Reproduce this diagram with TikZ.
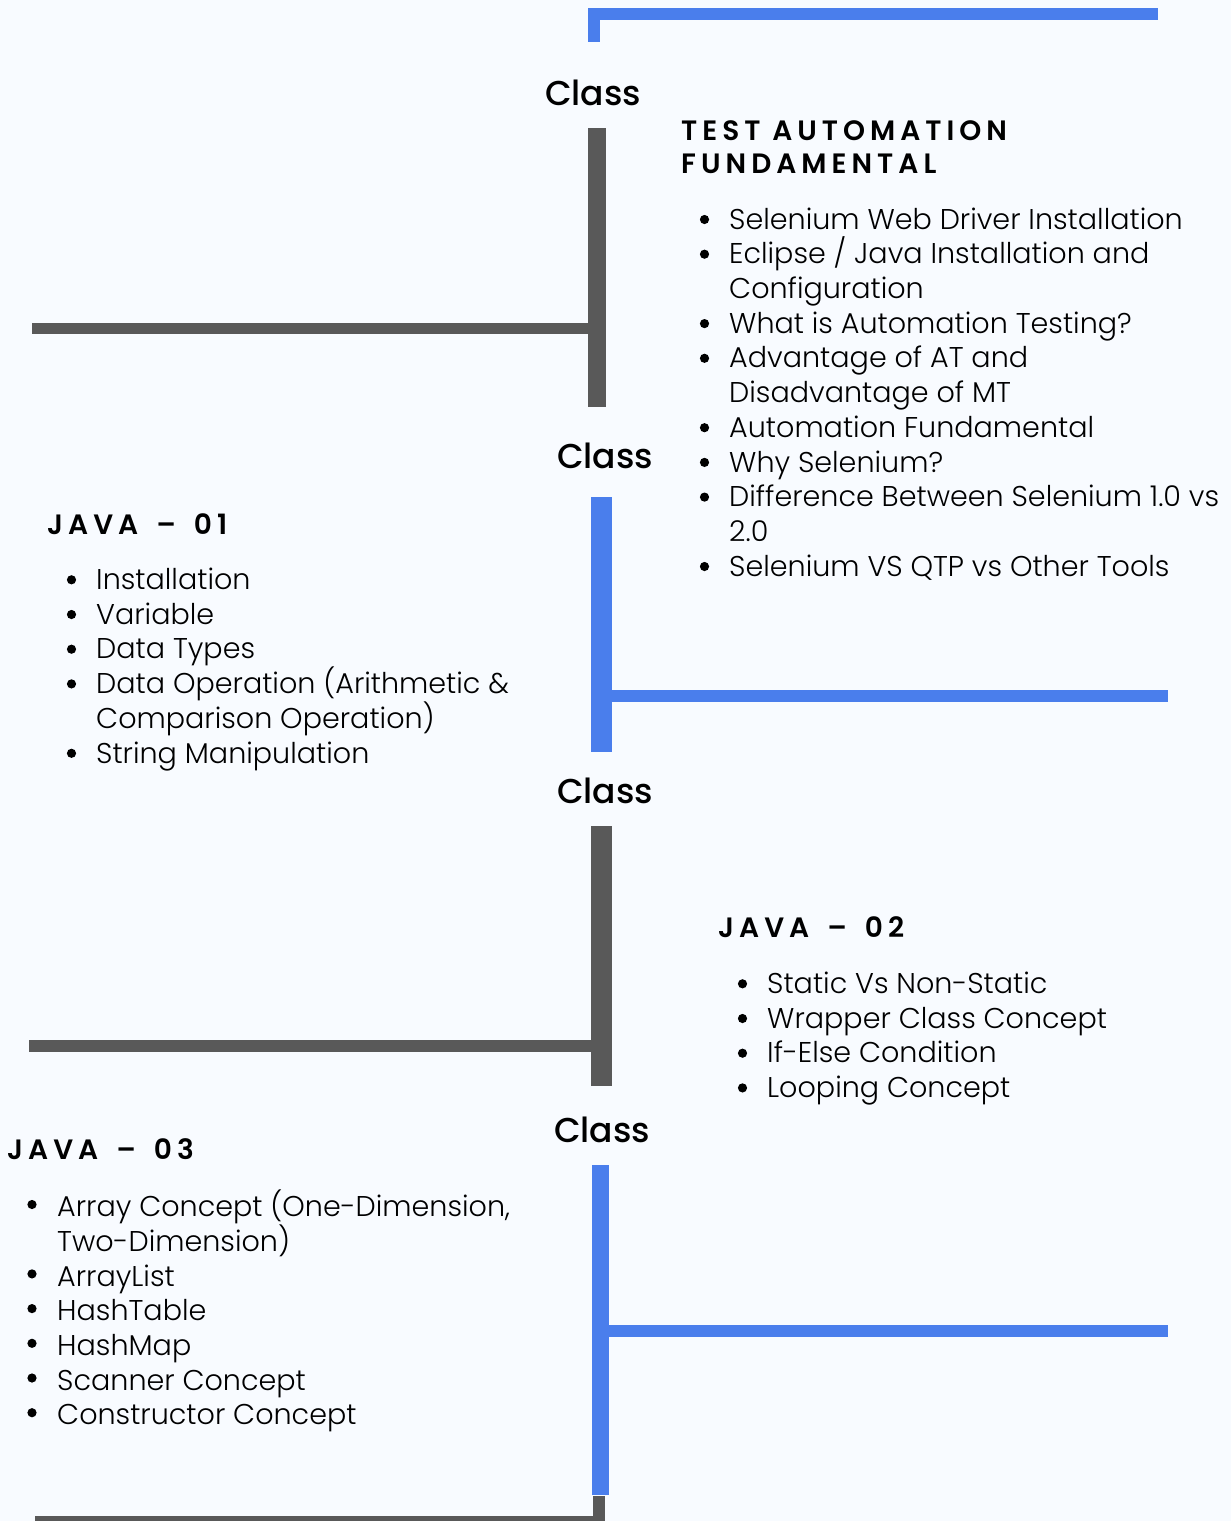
\documentclass[tikz,border=0pt]{standalone}
\usepackage{fontspec}
\newfontfamily\plight{Poppins Light}
\newfontfamily\pmed{Poppins Medium}
\newfontfamily\phead{Poppins SemiBold}[LetterSpace=18]
\definecolor{bgc}{HTML}{F8FBFF}
\definecolor{barblue}{HTML}{4A7EEC}
\definecolor{bargray}{HTML}{595959}
\lineskiplimit=-100pt
\newcommand\ci{\strut}
\newcommand\dashgap{\hspace*{18pt}–\hspace*{18pt}}
\tikzset{
  classlbl/.style={inner sep=0pt, anchor=base west, font=\pmed\fontsize{34.5}{40}\selectfont},
  headlbl/.style={inner sep=0pt, anchor=north west, align=left, font=\phead\fontsize{28}{33.3}\selectfont},
  listtxt/.style={inner sep=0pt, anchor=north west, align=left, font=\plight\fontsize{28.6}{34.7}\selectfont},
  bluebar/.style={fill=barblue},
  graybar/.style={fill=bargray},
  dot/.style={fill=black}
}
\begin{document}
\begin{tikzpicture}[x=1pt,y=-1pt]
\fill[bgc] (0,0) rectangle (1231,1521);
\useasboundingbox (0,0) rectangle (1231,1521);
% bars
\fill[bluebar] (588,8) rectangle (1158,20);
\fill[bluebar] (588,8) rectangle (600,42);
\fill[graybar] (588,128) rectangle (606,407);
\fill[graybar] (32,323) rectangle (590,334);
\fill[bluebar] (591,497) rectangle (612,752);
\fill[bluebar] (611,690) rectangle (1168,702);
\fill[graybar] (591,826) rectangle (612,1086);
\fill[graybar] (29,1040) rectangle (592,1052);
\fill[bluebar] (592,1165) rectangle (609,1495);
\fill[bluebar] (608,1325) rectangle (1168,1337);
\fill[graybar] (593,1496) rectangle (605,1521);
\fill[graybar] (35,1516) rectangle (605,1521);
% class labels
\node[classlbl] (c1) at (545,105) {Class};
\node[classlbl] (c2) at (557,468.3) {Class};
\node[classlbl] (c3) at (557,803.3) {Class};
\node[classlbl] (c4) at (554,1142.3) {Class};
% headings
\node[headlbl] (h1) at (681,116.7) {\strut TEST AUTOMATION\\\strut FUNDAMENTAL};
\node[headlbl] (h2) at (47,510.7) {\strut JAVA\dashgap01};
\node[headlbl] (h3) at (718,914.4) {\strut JAVA\dashgap02};
\node[headlbl] (h4) at (7,1135.7) {\strut JAVA\dashgap03};
% lists
\node[listtxt] (l1) at (729,204.7) {\ci Selenium Web Driver Installation\\
\ci Eclipse / Java Installation and\\
\ci Configuration\\
\ci What is Automation Testing?\\
\ci Advantage of AT and\\
\ci Disadvantage of MT\\
\ci Automation Fundamental\\
\ci Why Selenium?\\
\ci Difference Between Selenium 1.0 vs\\
\ci 2.0\\
\ci Selenium VS QTP vs Other Tools};
\foreach \k in {0,1,3,4,6,7,8,10} \fill[dot] (704.5,229-9.5+34.7*\k) circle (4.6);
\node[listtxt] (l2) at (96,565) {\ci Installation\\
\ci Variable\\
\ci Data Types\\
\ci Data Operation (Arithmetic \&\\
\ci Comparison Operation)\\
\ci String Manipulation};
\foreach \k in {0,1,2,3,5} \fill[dot] (71.5,589.3-9.5+34.7*\k) circle (4.6);
\node[listtxt] (l3) at (767,969) {\ci Static Vs Non-Static\\
\ci Wrapper Class Concept\\
\ci If-Else Condition\\
\ci Looping Concept};
\foreach \k in {0,1,2,3} \fill[dot] (742.5,993.3-9.5+34.7*\k) circle (4.6);
\node[listtxt] (l4) at (57,1189.7) {\ci Array Concept (One-Dimension,\\
\ci Two-Dimension)\\
\ci ArrayList\\
\ci HashTable\\
\ci HashMap\\
\ci Scanner Concept\\
\ci Constructor Concept};
\foreach \k in {0,2,3,4,5,6} \fill[dot] (32,1214-9.5+34.7*\k) circle (4.6);
\end{tikzpicture}
\end{document}
